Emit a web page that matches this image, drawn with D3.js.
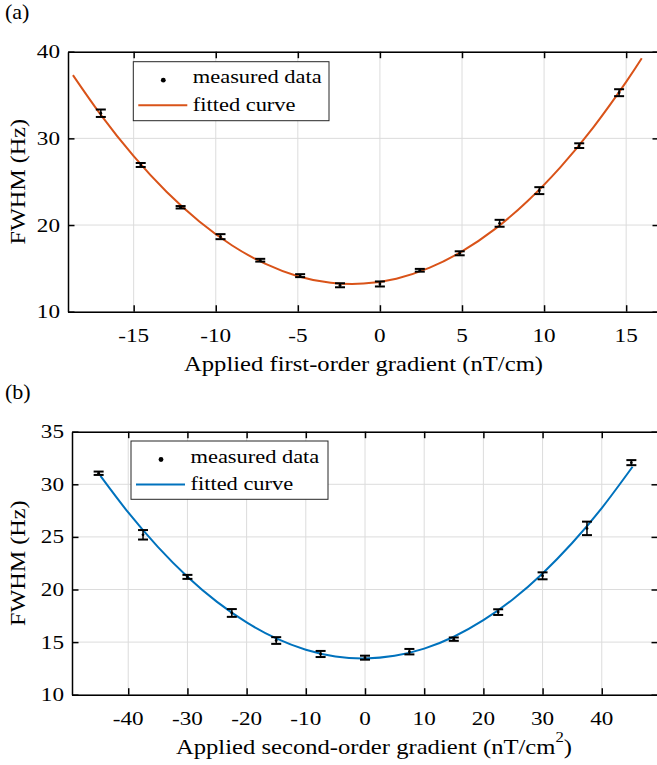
<!DOCTYPE html>
<html>
<head>
<meta charset="utf-8">
<script src="https://cdn.jsdelivr.net/npm/d3@7"></script>
<style>
  html, body { margin: 0; padding: 0; background: #fff; }
  svg { display: block; }
</style>
</head>
<body>
<svg id="fig" width="657" height="765" font-family="'Liberation Serif', 'Times New Roman', Tinos, 'DejaVu Serif', serif"></svg>
<script>
// ---- (a) first-order gradient ----
const gradA = [-17.0, -14.57, -12.14, -9.71, -7.29, -4.86, -2.43, 0, 2.43, 4.86, 7.29, 9.71, 12.14, 14.57];
const fwhmA = [32.9, 26.93, 22.05, 18.66, 15.94, 14.16, 13.05, 13.2, 14.78, 16.74, 20.2, 23.97, 29.16, 35.27];
const errA  = [0.43, 0.23, 0.14, 0.29, 0.16, 0.17, 0.23, 0.29, 0.16, 0.23, 0.40, 0.40, 0.27, 0.40];
const fitGradA = [-18.7, -17, -15, -13, -11, -9, -7, -5, -3, -1, 1, 3, 5, 7, 9, 11, 13, 15, 15.95];
const fitFwhmA = [37.30, 32.72, 27.95, 23.84, 20.41, 17.64, 15.54, 14.10, 13.34, 13.24, 13.81, 15.05, 16.96, 19.53, 22.78, 26.69, 31.27, 36.52, 39.24];
const xTicksA = [-15, -10, -5, 0, 5, 10, 15];
const yTicksA = [10, 20, 30, 40];

// ---- (b) second-order gradient ----
const gradB = [-45, -37.5, -30, -22.5, -15, -7.5, 0, 7.5, 15, 22.5, 30, 37.5, 45];
const fwhmB = [31.05, 25.2, 21.2, 17.77, 15.15, 13.87, 13.52, 14.09, 15.28, 17.85, 21.3, 25.81, 32.06];
const errB  = [0.16, 0.45, 0.19, 0.37, 0.32, 0.29, 0.19, 0.26, 0.16, 0.27, 0.33, 0.64, 0.24];
const fitGradB = [-44.7, -40, -35, -30, -25, -20, -15, -10, -5, 0, 5, 10, 15, 20, 25, 30, 35, 40, 45.2];
const fitFwhmB = [30.80, 27.32, 24.05, 21.21, 18.82, 16.87, 15.35, 14.28, 13.64, 13.45, 13.70, 14.38, 15.51, 17.08, 19.08, 21.53, 24.42, 27.74, 31.67];
const xTicksB = [-40, -30, -20, -10, 0, 10, 20, 30, 40];
const yTicksB = [10, 15, 20, 25, 30, 35];

const legendLabels = ["measured data", "fitted curve"];
const ORANGE = "#D95319", BLUE = "#0072BD";
const SERIF = "'Liberation Serif', 'Times New Roman', Tinos, 'DejaVu Serif', serif";

const svg = d3.select("#fig");

// text helper: serif glyphs drawn slightly wide, stretched along the text direction
function txt(g, x, y, s, size, sx, anchor, rot) {
  const t = g.append("text")
    .attr("transform", `translate(${x},${y})` + (rot ? ` rotate(${rot})` : "") + ` scale(${sx},1)`)
    .attr("font-family", SERIF)
    .attr("font-size", size)
    .attr("fill", "#000")
    .attr("text-anchor", anchor || "start");
  if (typeof s === "string") t.text(s);
  return t;
}

function panel(cfg) {
  const x = d3.scaleLinear().domain(cfg.xDomain).range([cfg.left, cfg.right]);
  const y = d3.scaleLinear().domain(cfg.yDomain).range([cfg.bottom, cfg.top]);
  const g = svg.append("g");
  const clipId = "clip-" + cfg.name;
  svg.append("clipPath").attr("id", clipId)
    .append("rect").attr("x", cfg.left).attr("y", cfg.top)
    .attr("width", cfg.right - cfg.left).attr("height", cfg.bottom - cfg.top);

  // grid
  const grid = g.append("g").attr("stroke", "#dcdcdc").attr("stroke-width", 1);
  cfg.xTicks.forEach(v => grid.append("line")
    .attr("x1", x(v)).attr("x2", x(v)).attr("y1", cfg.top).attr("y2", cfg.bottom));
  cfg.yTicks.forEach(v => grid.append("line")
    .attr("x1", cfg.left).attr("x2", cfg.right).attr("y1", y(v)).attr("y2", y(v)));

  // axes with inward ticks (bottom/top, left/right)
  const tl = 6.5;
  const axB = d3.axisBottom(x).tickValues(cfg.xTicks).tickSizeInner(-tl).tickSizeOuter(0).tickFormat("");
  const axT = d3.axisTop(x).tickValues(cfg.xTicks).tickSizeInner(-tl).tickSizeOuter(0).tickFormat("");
  const axL = d3.axisLeft(y).tickValues(cfg.yTicks).tickSizeInner(-tl).tickSizeOuter(0).tickFormat("");
  const axR = d3.axisRight(y).tickValues(cfg.yTicks).tickSizeInner(-tl).tickSizeOuter(0).tickFormat("");
  const axes = [
    [axB, `translate(0,${cfg.bottom})`], [axT, `translate(0,${cfg.top})`],
    [axL, `translate(${cfg.left},0)`], [axR, `translate(${cfg.right},0)`]
  ];
  axes.forEach(([a, tr]) => {
    const ag = g.append("g").attr("transform", tr).call(a);
    ag.selectAll("path").attr("stroke", "#000").attr("stroke-width", 1.5);
    ag.selectAll("line").attr("stroke", "#000").attr("stroke-width", 1.5);
  });

  // tick labels
  cfg.xTicks.forEach(v => txt(g, x(v), cfg.bottom + 30, String(v), 19, 1.22, "middle"));
  cfg.yTicks.forEach(v => txt(g, cfg.left - 8, y(v) + 6.5, String(v), 19, 1.22, "end"));

  // fitted curve
  const line = d3.line().x((d, i) => x(cfg.fitX[i])).y(d => y(d)).curve(d3.curveNatural);
  g.append("path").datum(cfg.fitY)
    .attr("clip-path", `url(#${clipId})`)
    .attr("d", line).attr("fill", "none")
    .attr("stroke", cfg.color).attr("stroke-width", 2);

  // measured data with error bars
  const pts = g.append("g").attr("stroke", "#000").attr("stroke-width", 1.5);
  cfg.dataX.forEach((gx, i) => {
    const cx = x(gx), lo = y(cfg.dataY[i] - cfg.err[i]), hi = y(cfg.dataY[i] + cfg.err[i]);
    pts.append("line").attr("x1", cx).attr("x2", cx).attr("y1", lo).attr("y2", hi);
    pts.append("line").attr("x1", cx - 5).attr("x2", cx + 5).attr("y1", lo).attr("y2", lo).attr("stroke-width", 2);
    pts.append("line").attr("x1", cx - 5).attr("x2", cx + 5).attr("y1", hi).attr("y2", hi).attr("stroke-width", 2);
    g.append("circle").attr("cx", cx).attr("cy", y(cfg.dataY[i])).attr("r", 1.4).attr("fill", "#000");
  });

  // legend
  const L = cfg.legend;
  g.append("rect").attr("x", L.x).attr("y", L.y).attr("width", L.w).attr("height", L.h)
    .attr("fill", "#fff").attr("stroke", "#262626").attr("stroke-width", 1);
  g.append("circle").attr("cx", L.x + 30).attr("cy", L.y + 18.5).attr("r", 2.4).attr("fill", "#000");
  g.append("line").attr("x1", L.x + 5).attr("x2", L.x + 54).attr("y1", L.y + 43.5).attr("y2", L.y + 43.5)
    .attr("stroke", cfg.color).attr("stroke-width", 2);
  txt(g, L.x + 59.5, L.y + 21.5, legendLabels[0], 19.5, 1.15, "start");
  txt(g, L.x + 59.5, L.y + 49, legendLabels[1], 19.5, 1.15, "start");

  // axis titles and panel tag
  const midX = (cfg.left + cfg.right) / 2, midY = (cfg.top + cfg.bottom) / 2;
  const xl = txt(g, midX + (cfg.xLabelShift || 0), cfg.bottom + 59, null, 22, 1.12, "middle");
  cfg.xLabel(xl);
  txt(g, 25, midY, "FWHM (Hz)", 22, 1.1, "middle", -90);
  txt(g, 5, cfg.top - 33, cfg.tag, 21, 1.05, "start");
}

panel({
  name: "a", color: ORANGE,
  left: 68, right: 659, top: 51.7, bottom: 311.7,
  xDomain: [-19, 17], yDomain: [10, 40],
  xTicks: xTicksA, yTicks: yTicksA,
  dataX: gradA, dataY: fwhmA, err: errA,
  fitX: fitGradA, fitY: fitFwhmA,
  legend: { x: 133.3, y: 61.7, w: 195.7, h: 59 },
  tag: "(a)",
  xLabel: t => t.text("Applied first-order gradient (nT/cm)")
});

panel({
  name: "b", color: BLUE,
  left: 72, right: 658, top: 431.7, bottom: 694.7,
  xDomain: [-49.5, 49.5], yDomain: [10, 35],
  xTicks: xTicksB, yTicks: yTicksB,
  dataX: gradB, dataY: fwhmB, err: errB,
  fitX: fitGradB, fitY: fitFwhmB,
  legend: { x: 131, y: 441, w: 197, h: 58.3 },
  tag: "(b)",
  xLabelShift: 9,
  xLabel: t => {
    t.append("tspan").text("Applied second-order gradient (nT/cm");
    t.append("tspan").attr("dx", 0).attr("dy", -12).attr("font-size", 15).text("2");
    t.append("tspan").attr("dy", 12).text(")");
  }
});
</script>
</body>
</html>
